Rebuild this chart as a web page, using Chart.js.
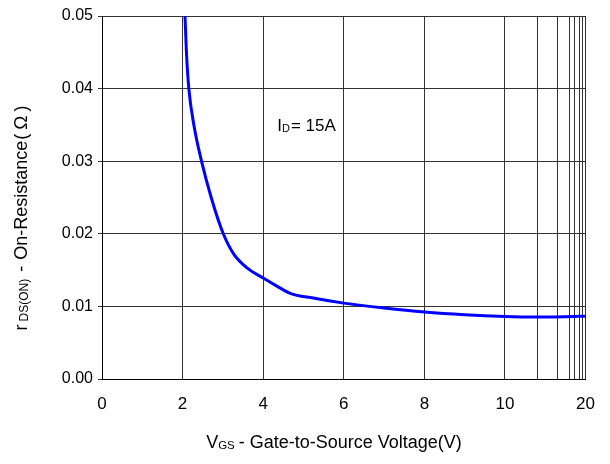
<!DOCTYPE html>
<html lang="en">
<head>
<meta charset="utf-8">
<title>rDS(ON) vs VGS</title>
<script src="https://cdn.jsdelivr.net/npm/chart.js@4/dist/chart.umd.min.js"></script>
<style>
html, body { margin:0; padding:0; background:#fff; }
#wrap { width:610px; height:464px; position:relative; }
</style>
</head>
<body>
<div id="wrap"><canvas id="chart-area"></canvas></div>

<script>
// x is the axis position: 0..10 = volts, 10..12 = the squeezed 10V..20V part
var gsPos = [2.06, 2.095, 2.155, 2.28, 2.47, 2.71, 3.01, 3.27, 3.60, 4.0, 4.34, 4.67, 5.24, 6.0, 7.0, 8.0, 9.0, 10.0, 10.8, 11.5, 12.0];
var rdsOn = [0.0500, 0.0450, 0.0400, 0.0350, 0.0300, 0.0250, 0.0200, 0.0172, 0.0153, 0.0139, 0.0128, 0.0118, 0.01115, 0.01045, 0.00977, 0.00922, 0.00885, 0.00862, 0.00855, 0.00858, 0.00866];

var xTickPos  = [0, 2, 4, 6, 8, 10, 10.81, 11.3, 11.59, 11.73, 11.86, 11.92, 12];
var xTickText = ['0', '2', '4', '6', '8', '10', '', '', '', '', '', '', '20'];
var yTickStep = 0.01;

var FONT = "'Liberation Sans', Arial, sans-serif";

// draw text pieces (with subscripts and gaps), centred on cx
function drawParts(ctx, parts, cx, baseY) {
  var w = 0;
  parts.forEach(function(p) {
    ctx.font = p.size + 'px ' + FONT;
    p.w = ctx.measureText(p.t).width;
    w += p.w + (p.gap || 0);
  });
  var x = cx - w / 2;
  ctx.textAlign = 'left';
  ctx.textBaseline = 'alphabetic';
  parts.forEach(function(p) {
    x += (p.gap || 0);
    ctx.font = p.size + 'px ' + FONT;
    ctx.fillText(p.t, x, baseY + (p.dy || 0));
    x += p.w;
  });
}

var titles = {
  id: 'titles',
  afterDraw: function(chart) {
    var ctx = chart.ctx;
    var xs = chart.scales.x, ys = chart.scales.y;
    ctx.save();
    ctx.fillStyle = '#000';

    drawParts(ctx, [
      {t: 'V', size: 18},
      {t: 'GS', size: 11.5, dy: 1},
      {t: '-', size: 18, gap: 4},
      {t: 'Gate-to-Source Voltage(V)', size: 18, gap: 5}
    ], 334, 448);

    ctx.save();
    ctx.translate(21, 218);
    ctx.rotate(-Math.PI / 2);
    drawParts(ctx, [
      {t: 'r', size: 18},
      {t: 'DS(ON)', size: 12, dy: 1, gap: 3},
      {t: '-', size: 18, gap: 7},
      {t: 'On-Resistance', size: 18, gap: 6},
      {t: '(', size: 18, gap: 1},
      {t: '\u03A9', size: 19, gap: 4},
      {t: ')', size: 18, gap: 4}
    ], 0, 6);
    ctx.restore();

    // ID = 15A
    var lx = xs.getPixelForValue(4.35), ly = ys.getPixelForValue(0.0342);
    ctx.textAlign = 'left';
    ctx.font = '17px ' + FONT;
    ctx.fillText('I', lx, ly);
    var w1 = ctx.measureText('I').width;
    ctx.font = '11px ' + FONT;
    ctx.fillText('D', lx + w1, ly + 1);
    var w2 = ctx.measureText('D').width;
    ctx.font = '17px ' + FONT;
    ctx.fillText('= 15A', lx + w1 + w2 + 1, ly);
    ctx.restore();
  }
};

var config = {
  type: 'line',
  data: {
    datasets: [{
      data: gsPos.map(function(x, i) { return {x: x, y: rdsOn[i]}; }),
      borderColor: '#0000ff',
      borderWidth: 3,
      pointRadius: 0,
      cubicInterpolationMode: 'monotone',
      fill: false
    }]
  },
  options: {
    responsive: true,
    maintainAspectRatio: false,
    animation: false,
    layout: { padding: { top: 16, right: 20, left: 0, bottom: 0 } },
    plugins: { legend: { display: false }, tooltip: { enabled: false } },
    scales: {
      x: {
        type: 'linear', min: 0, max: 12,
        afterBuildTicks: function(s) { s.ticks = xTickPos.map(function(v) { return {value: v}; }); },
        afterFit: function(s) { s.height = 85; },
        ticks: {
          autoSkip: false, maxRotation: 0, minRotation: 0, padding: 15, color: '#000',
          font: { family: FONT, size: 17 },
          callback: function(v, i) { return xTickText[i]; }
        },
        grid: { color: '#333', drawTicks: false },
        border: { color: '#000' }
      },
      y: {
        min: 0, max: 0.05,
        afterFit: function(s) { s.width = 102; },
        ticks: {
          stepSize: yTickStep, padding: 5, color: '#000',
          font: { family: FONT, size: 16 },
          callback: function(v) { return v.toFixed(2); }
        },
        grid: { color: '#333', tickLength: 4 },
        border: { color: '#000' }
      }
    }
  },
  plugins: [titles]
};

window.onload = function() {
  var ctx = document.getElementById('chart-area').getContext('2d');
  window.myLine = new Chart(ctx, config);
};
</script>
</body>
</html>
